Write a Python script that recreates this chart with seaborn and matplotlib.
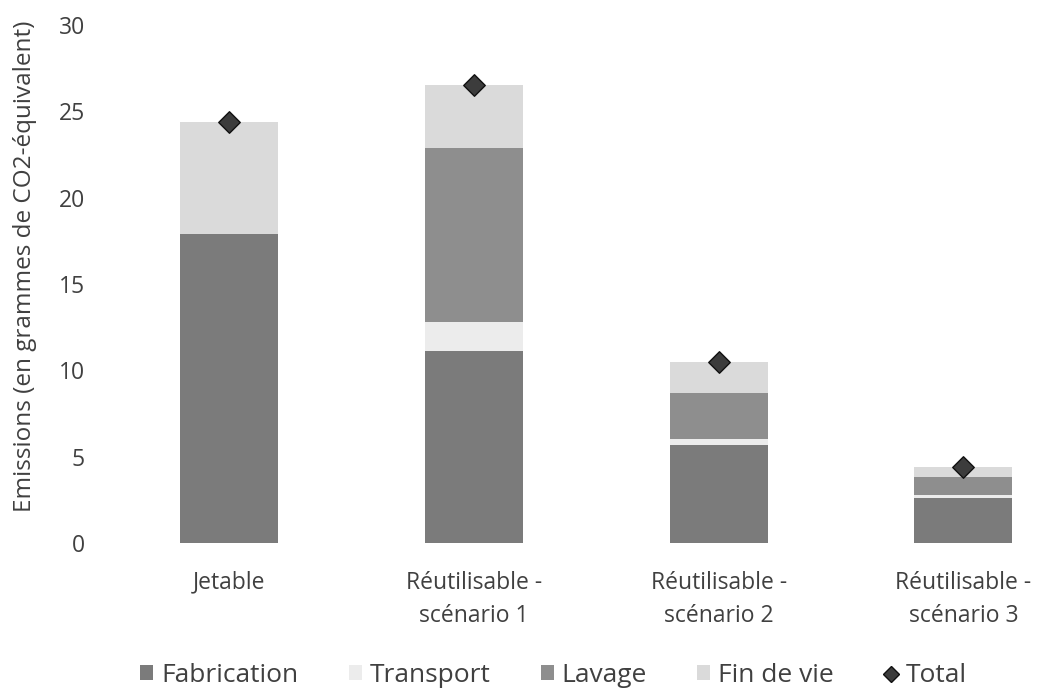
import numpy as np
import pandas as pd
import matplotlib
matplotlib.use("Agg")
import matplotlib.pyplot as plt
import seaborn as sns
from matplotlib.patches import Patch
from matplotlib.lines import Line2D

# Données (g CO2-éq)
scenarios = ["Jetable", "Réutilisable -\nscénario 1", "Réutilisable -\nscénario 2", "Réutilisable -\nscénario 3"]
fabrication = [17.9, 11.1, 5.7, 2.6]
transport = [0.0, 1.7, 0.3, 0.2]
lavage = [0.0, 10.1, 2.7, 1.0]
fin_de_vie = [6.5, 3.6, 1.8, 0.6]
total = [24.4, 26.5, 10.5, 4.4]

colors = {"Fabrication": "#7b7b7b", "Transport": "#ececec", "Lavage": "#8e8e8e", "Fin de vie": "#dadada"}
text_col = "#404040"

sns.set_style("white")
plt.rcParams["font.family"] = ["Open Sans", "DejaVu Sans"]

df = pd.DataFrame({"scenario": scenarios, "Fabrication": fabrication, "Transport": transport,
                   "Lavage": lavage, "Fin de vie": fin_de_vie, "Total": total})
layers = ["Fabrication", "Transport", "Lavage", "Fin de vie"]
cum = df[layers].cumsum(axis=1)

fig = plt.figure(figsize=(10.5, 6.88), dpi=100)
ax = fig.add_axes([0.102, 0.2108, 0.897, 0.7529])

# barres empilées: on dessine les cumuls du haut vers le bas
for layer in layers[::-1]:
    sns.barplot(x=df["scenario"], y=cum[layer], color=colors[layer], width=0.4,
                saturation=1, linewidth=0, ax=ax)

sns.scatterplot(x=df["scenario"], y=df["Total"], marker="D", s=120, color="#3c3c3c",
                edgecolor="#111111", linewidth=1, ax=ax, zorder=5)

ax.set_ylim(0, 30)
ax.set_xlim(-0.5, 3.35)
ax.set_yticks(range(0, 31, 5))
ax.tick_params(axis="both", length=0, labelsize=16.5, colors=text_col)
ax.tick_params(axis="x", pad=20)
ax.tick_params(axis="y", pad=16)
ax.set_xlabel("")
ax.set_ylabel("Emissions (en grammes de CO2-équivalent)", fontsize=17.5, color=text_col)
ax.yaxis.set_label_coords(-0.074, 0.535)
sns.despine(ax=ax, left=True, bottom=True)
for lbl in ax.get_xticklabels():
    lbl.set_linespacing(1.5)

handles = [Patch(facecolor=colors[l], edgecolor="none", label=l) for l in layers]
handles.append(Line2D([], [], marker="D", linestyle="none", markersize=8,
                      markerfacecolor="#3c3c3c", markeredgecolor="#111111", label="Total"))
fig.legend(handles=handles, loc="lower center", bbox_to_anchor=(0.527, -0.035), ncol=5,
           frameon=False, fontsize=19, handlelength=0.5, handleheight=0.5,
           handletextpad=0.3, columnspacing=1.9, labelcolor=text_col)

fig.savefig("out.png", dpi=100)
